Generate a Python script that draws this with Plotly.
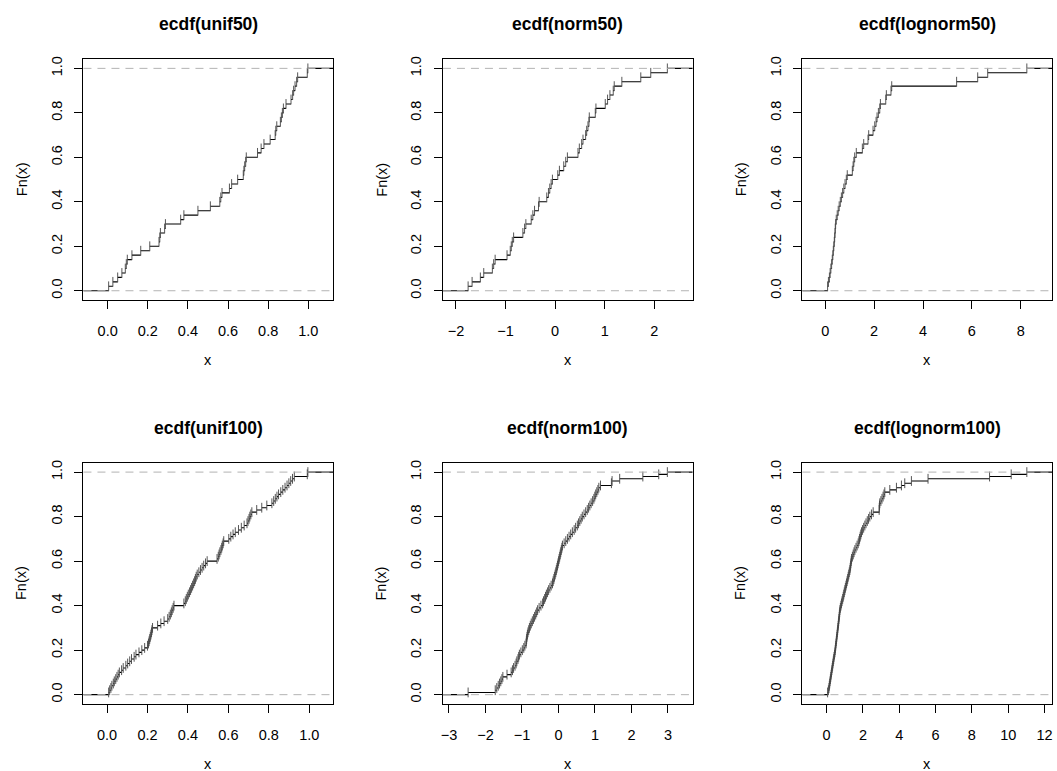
import plotly.graph_objects as go
import numpy as np

# ---- sample values (sorted) ----
unif50 = [0.005, 0.026, 0.050, 0.071, 0.088, 0.093, 0.098, 0.121, 0.165, 0.210,
          0.256, 0.260, 0.263, 0.284, 0.288, 0.364, 0.380, 0.450, 0.512, 0.559,
          0.564, 0.570, 0.607, 0.618, 0.648, 0.676, 0.679, 0.683, 0.688, 0.691,
          0.747, 0.765, 0.779, 0.810, 0.835, 0.838, 0.843, 0.861, 0.866, 0.871,
          0.876, 0.889, 0.914, 0.922, 0.927, 0.934, 0.942, 0.947, 0.995, 0.998]

norm50 = [-1.755, -1.675, -1.508, -1.44, -1.266, -1.24, -1.21, -0.97, -0.905, -0.884,
          -0.864, -0.837, -0.650, -0.616, -0.59, -0.482, -0.449, -0.415, -0.335, -0.322,
          -0.168, -0.134, -0.107, -0.080, -0.054, 0.054, 0.087, 0.174, 0.214, 0.248,
          0.462, 0.489, 0.536, 0.563, 0.616, 0.637, 0.663, 0.683, 0.69, 0.811,
          0.824, 1.012, 1.059, 1.106, 1.173, 1.193, 1.347, 1.729, 1.930, 2.265]

lognorm50 = [0.096, 0.13, 0.17, 0.20, 0.23, 0.26, 0.287, 0.31, 0.33, 0.35,
             0.37, 0.385, 0.40, 0.41, 0.424, 0.45, 0.49, 0.53, 0.57, 0.616,
             0.66, 0.71, 0.76, 0.81, 0.862, 0.90, 1.108, 1.14, 1.17, 1.204,
             1.27, 1.518, 1.573, 1.75, 1.778, 1.956, 2.025, 2.08, 2.12, 2.175,
             2.23, 2.257, 2.476, 2.50, 2.69, 2.72, 5.376, 6.238, 6.648, 8.249]

unif100 = [0.008, 0.013, 0.019, 0.024, 0.031, 0.036, 0.043, 0.049, 0.055, 0.061,
           0.072, 0.080, 0.093, 0.102, 0.112, 0.121, 0.134, 0.143, 0.158, 0.172,
           0.186, 0.200, 0.205, 0.208, 0.211, 0.214, 0.217, 0.220, 0.222, 0.225,
           0.250, 0.266, 0.282, 0.300, 0.307, 0.313, 0.318, 0.322, 0.327, 0.331,
           0.380, 0.387, 0.392, 0.397, 0.402, 0.408, 0.413, 0.418, 0.423, 0.428,
           0.433, 0.437, 0.441, 0.446, 0.454, 0.462, 0.470, 0.478, 0.487, 0.495,
           0.544, 0.550, 0.554, 0.558, 0.563, 0.567, 0.570, 0.574, 0.577, 0.602,
           0.612, 0.623, 0.634, 0.650, 0.664, 0.678, 0.692, 0.697, 0.702, 0.706,
           0.711, 0.716, 0.740, 0.765, 0.790, 0.815, 0.824, 0.832, 0.840, 0.848,
           0.859, 0.869, 0.880, 0.890, 0.899, 0.908, 0.917, 0.926, 0.990, 0.993]

norm100 = [-2.475, -1.732, -1.69, -1.65, -1.614, -1.58, -1.55, -1.523, -1.41, -1.296,
           -1.26, -1.23, -1.19, -1.160, -1.14, -1.11, -1.09, -1.070, -1.03, -0.99,
           -0.95, -0.92, -0.888, -0.880, -0.872, -0.862, -0.850, -0.835, -0.815, -0.795,
           -0.771, -0.745, -0.715, -0.685, -0.655, -0.625, -0.598, -0.571, -0.53, -0.48,
           -0.435, -0.41, -0.38, -0.355, -0.33, -0.299, -0.27, -0.235, -0.20, -0.163,
           -0.145, -0.125, -0.11, -0.09, -0.073, -0.058, -0.042, -0.027, -0.012, 0.003,
           0.018, 0.033, 0.048, 0.063, 0.078, 0.094, 0.109, 0.155, 0.20, 0.245,
           0.29, 0.335, 0.381, 0.43, 0.47, 0.517, 0.55, 0.585, 0.62, 0.653,
           0.70, 0.745, 0.789, 0.825, 0.86, 0.895, 0.935, 0.970, 0.995, 1.02,
           1.05, 1.08, 1.106, 1.151, 1.451, 1.469, 1.677, 2.312, 2.747, 2.983]

lognorm100 = [0.055, 0.10, 0.13, 0.15, 0.17, 0.19, 0.21, 0.23, 0.25, 0.27,
              0.29, 0.31, 0.33, 0.35, 0.37, 0.39, 0.41, 0.435, 0.458, 0.473,
              0.488, 0.503, 0.518, 0.533, 0.548, 0.563, 0.578, 0.593, 0.608, 0.622,
              0.637, 0.651, 0.665, 0.679, 0.693, 0.706, 0.72, 0.733, 0.76, 0.79,
              0.82, 0.85, 0.885, 0.916, 0.945, 0.975, 1.005, 1.035, 1.067, 1.099,
              1.13, 1.16, 1.19, 1.22, 1.25, 1.282, 1.30, 1.32, 1.338, 1.356,
              1.374, 1.42, 1.465, 1.51, 1.557, 1.62, 1.68, 1.740, 1.78, 1.815,
              1.85, 1.885, 1.923, 1.98, 2.04, 2.106, 2.17, 2.24, 2.31, 2.381,
              2.47, 2.564, 2.894, 2.90, 2.915, 2.930, 2.99, 3.05, 3.11, 3.16,
              3.205, 3.480, 3.846, 4.121, 4.304, 4.670, 5.586, 8.974, 10.165, 11.026]

titles = ["ecdf(unif50)", "ecdf(norm50)", "ecdf(lognorm50)",
          "ecdf(unif100)", "ecdf(norm100)", "ecdf(lognorm100)"]
samples = [unif50, norm50, lognorm50, unif100, norm100, lognorm100]

xtick_vals = [[0, 0.2, 0.4, 0.6, 0.8, 1.0], [-2, -1, 0, 1, 2], [0, 2, 4, 6, 8],
              [0, 0.2, 0.4, 0.6, 0.8, 1.0], [-3, -2, -1, 0, 1, 2, 3], [0, 2, 4, 6, 8, 10, 12]]
xtick_text = [["0.0", "0.2", "0.4", "0.6", "0.8", "1.0"],
              ["\u22122", "\u22121", "0", "1", "2"],
              ["0", "2", "4", "6", "8"],
              ["0.0", "0.2", "0.4", "0.6", "0.8", "1.0"],
              ["\u22123", "\u22122", "\u22121", "0", "1", "2", "3"],
              ["0", "2", "4", "6", "8", "10", "12"]]
ytick_vals = [0, 0.2, 0.4, 0.6, 0.8, 1.0]
ytick_text = ["0.0", "0.2", "0.4", "0.6", "0.8", "1.0"]

W, H = 1057, 771
FONT = "Liberation Sans, Arial, Helvetica, sans-serif"
col_left = [81.7, 442.2, 802.7]
box_w = 250.3
row_top = [56.7, 462.0]
row_bot = [297.8, 703.3]

fig = go.Figure()
annotations = []
shapes = []

for k, (title, xs) in enumerate(zip(titles, samples)):
    r, c = divmod(k, 3)
    ax = "" if k == 0 else str(k + 1)
    xs = np.sort(np.array(xs, dtype=float))
    n = len(xs)
    rx = (xs.min(), xs.max())
    dr = max(0.08 * (rx[1] - rx[0]), float(np.median(np.diff(xs))))
    xlim = (rx[0] - dr, rx[1] + dr)
    ext = 0.04 * (xlim[1] - xlim[0])
    xrange = [xlim[0] - ext, xlim[1] + ext]
    ti = np.concatenate([[xlim[0] - dr], xs, [xlim[1] + dr]])
    levels = np.arange(0, n + 1) / n

    # horizontal segments of the step function
    sx, sy = [], []
    for i in range(n + 1):
        sx += [ti[i], ti[i + 1], None]
        sy += [levels[i], levels[i], None]
    fig.add_trace(go.Scatter(x=sx, y=sy, mode="lines", line=dict(color="black", width=1.1),
                             xaxis="x" + ax, yaxis="y" + ax, showlegend=False, hoverinfo="skip"))
    # points
    fig.add_trace(go.Scatter(x=xs, y=levels[1:], mode="markers",
                             marker=dict(symbol="line-ns", size=7, color="#444444",
                                         line=dict(color="#444444", width=0.9)),
                             xaxis="x" + ax, yaxis="y" + ax, showlegend=False, hoverinfo="skip"))

    x0 = col_left[c] / W
    x1 = (col_left[c] + box_w) / W
    y0 = 1 - row_bot[r] / H
    y1 = 1 - row_top[r] / H
    common = dict(showgrid=False, zeroline=False, showline=True, mirror=True,
                  linecolor="black", linewidth=1, ticks="outside", ticklen=8,
                  tickcolor="black", tickwidth=1,
                  tickfont=dict(family=FONT, size=14.5, color="black"))
    fig.update_layout(**{
        "xaxis" + ax: dict(domain=[x0, x1], range=xrange, anchor="y" + ax,
                           tickvals=xtick_vals[k], ticktext=xtick_text[k],
                           ticklabelstandoff=10, **common),
        "yaxis" + ax: dict(domain=[y0, y1], range=[-0.04, 1.04], anchor="x" + ax,
                           tickvals=ytick_vals, ticktext=ytick_text, tickangle=-90,
                           ticklabelstandoff=7, **common),
    })
    for yv in (0, 1):
        shapes.append(dict(type="line", xref="x" + ax + " domain", yref="y" + ax,
                           x0=0, x1=1, y0=yv, y1=yv, layer="above",
                           line=dict(color="#B3B3B3", width=1, dash="8px,6px")))

    cx = (col_left[c] + box_w / 2) / W
    # title
    annotations.append(dict(text="<b>%s</b>" % title, x=cx, y=1 - (row_top[r] - 35.5) / H,
                            xref="paper", yref="paper", xanchor="center", yanchor="middle",
                            showarrow=False, font=dict(family=FONT, size=17.5, color="black")))
    # x label
    annotations.append(dict(text="x", x=cx, y=1 - (row_bot[r] + 61.0) / H,
                            xref="paper", yref="paper", xanchor="center", yanchor="middle",
                            showarrow=False, font=dict(family=FONT, size=14.5, color="black")))
    # y label
    annotations.append(dict(text="Fn(x)", x=(col_left[c] - 62.0) / W,
                            y=1 - (row_top[r] + row_bot[r]) / 2 / H,
                            xref="paper", yref="paper", xanchor="center", yanchor="middle",
                            textangle=-90, showarrow=False,
                            font=dict(family=FONT, size=14.5, color="black")))

fig.update_layout(width=W, height=H, autosize=False,
                  margin=dict(l=0, r=0, t=0, b=0),
                  paper_bgcolor="white", plot_bgcolor="white",
                  annotations=annotations, shapes=shapes,
                  font=dict(family=FONT, color="black"))

fig.write_html("out.html", config={"displayModeBar": False},
               post_script="document.body.style.margin='0';document.body.style.padding='0';"
                           "document.body.style.overflow='hidden';")
